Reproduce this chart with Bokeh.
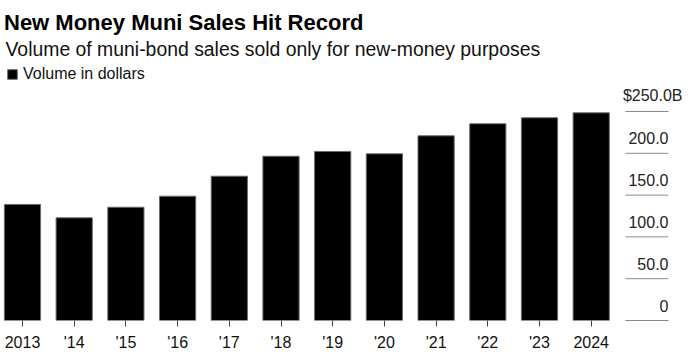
from bokeh.plotting import figure
from bokeh.models import (Range1d, FixedTicker, Label, Legend, LegendItem, ColumnDataSource)
from bokeh.core.properties import value
from bokeh.embed import file_html
from bokeh.resources import INLINE

# ---- data ----
year_labels = ["2013", "'14", "'15", "'16", "'17", "'18", "'19", "'20", "'21", "'22", "'23", "2024"]
volume_b = [138.8, 122.8, 135.5, 148.7, 172.6, 196.5, 202.2, 199.4, 220.9, 235.3, 242.5, 248.4]
y_ticks = [0, 50, 100, 150, 200, 250]
y_tick_labels = ["0", "50.0", "100.0", "150.0", "200.0", "$250.0B"]

title_text = "New Money Muni Sales Hit Record"
subtitle_text = "Volume of muni-bond sales sold only for new-money purposes"
legend_text = "Volume in dollars"

FONT = "Liberation Sans"
W, H = 690, 355
ZERO_PX = 320          # canvas y of the baseline
BOTTOM = H - ZERO_PX
PX_PER_UNIT = 0.836    # vertical pixels per $B
STEP_PX = 51.7         # pixels between bar centres
FIRST_PX = 22.0        # canvas x of first bar centre
n = len(volume_b)

def dx(px):   # canvas x pixel -> data x
    return (px - FIRST_PX) / STEP_PX

def dy(py):   # canvas y pixel (top-down) -> data y
    return (ZERO_PX - py) / PX_PER_UNIT

p = figure(width=W, height=H, output_backend="svg", toolbar_location=None,
           x_range=Range1d(dx(0), dx(W)), y_range=Range1d(0, dy(0)),
           min_border_left=0, min_border_right=0, min_border_top=0,
           min_border_bottom=BOTTOM)
p.outline_line_color = None
p.background_fill_color = "white"
p.border_fill_color = "white"
p.xgrid.visible = False
p.ygrid.visible = False
p.yaxis.visible = False

xs = list(range(n))
src = ColumnDataSource(dict(x=xs, top=volume_b))
bars = p.vbar(x="x", top="top", width=0.7, bottom=0, source=src,
              fill_color="black", line_color="#6b6b6b", line_width=1)

# x axis
ax = p.xaxis[0]
ax.ticker = FixedTicker(ticks=xs)
ax.major_label_overrides = {i: lab for i, lab in enumerate(year_labels)}
ax.axis_line_color = None
ax.major_tick_in = 0
ax.major_tick_out = 6
ax.major_tick_line_color = "#444444"
ax.minor_tick_line_color = None
ax.major_label_standoff = 7
ax.major_label_text_font = FONT
ax.major_label_text_font_size = "16px"
ax.major_label_text_color = "#111111"

# y rules (short, at right) and their labels
gx0 = dx(625)
gx1 = dx(668)
grid_colors = ["#111111"] + ["#8a8a8a"] * (len(y_ticks) - 1)
p.segment(x0=[gx0] * len(y_ticks), x1=[gx1] * len(y_ticks), y0=y_ticks, y1=y_ticks,
          line_color=grid_colors, line_width=1)
p.text(x=[gx1] * (len(y_ticks) - 1), y=y_ticks[:-1], text=y_tick_labels[:-1],
       text_align="right", text_baseline="middle", y_offset=-15,
       text_font=value(FONT), text_font_size="16px", text_color="#222222")
p.text(x=[gx1], y=y_ticks[-1:], text=y_tick_labels[-1:],
       text_align="right", text_baseline="middle", y_offset=-16, x_offset=14,
       text_font=value(FONT), text_font_size="16px", text_color="#222222")

# titles
p.add_layout(Label(x=dx(3.5), y=dy(22), text=title_text,
                   text_font=FONT, text_font_size="22px", text_font_style="bold",
                   text_color="#000000", text_baseline="alphabetic"))
p.add_layout(Label(x=dx(5), y=dy(48), text=subtitle_text,
                   text_font=FONT, text_font_size="19.4px",
                   text_color="#111111", text_baseline="alphabetic"))

legend = Legend(items=[LegendItem(label=legend_text, renderers=[bars])],
                location=(6, ZERO_PX - 65 - 18), orientation="horizontal",
                glyph_width=12, glyph_height=12, label_standoff=5,
                label_text_font=FONT, label_text_font_size="16px",
                label_text_color="#111111", padding=0, margin=0, spacing=0,
                border_line_alpha=0, background_fill_alpha=0,
                label_height=10)
p.add_layout(legend)

open("out.html", "w").write(file_html(p, INLINE))
